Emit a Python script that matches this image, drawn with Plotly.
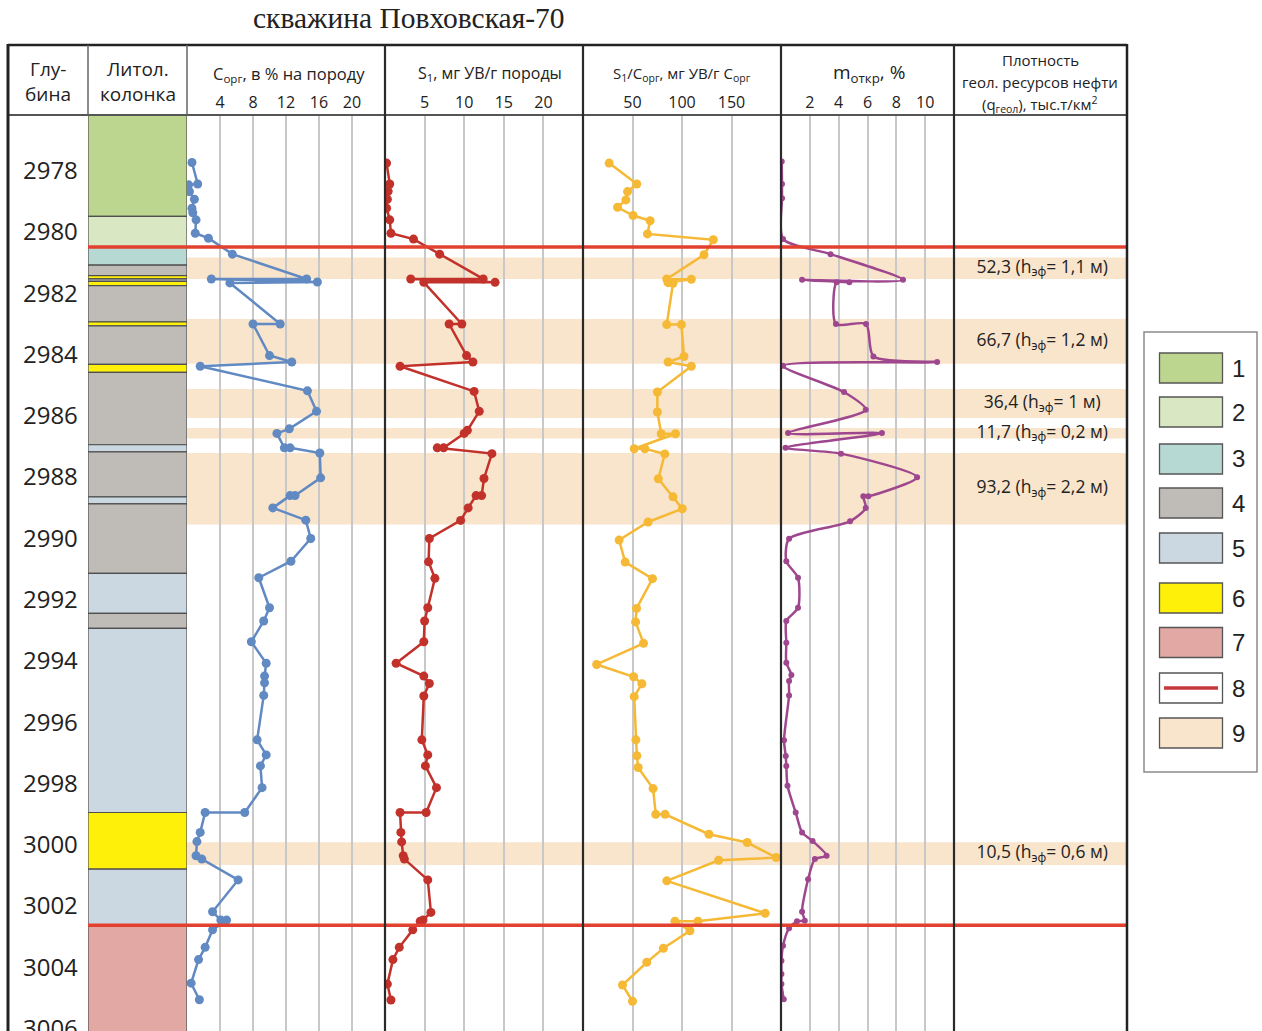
import plotly.graph_objects as go

W, H = 1262, 1031

# ---------------- data ----------------
depth_ticks = [2978, 2980, 2982, 2984, 2986, 2988, 2990, 2992, 2994, 2996, 2998, 3000, 3002, 3004, 3006]

lith_top = [2976.11, 2979.42, 2980.42, 2981.01, 2981.35, 2981.46, 2981.54, 2981.68, 2982.86, 2982.99,
            2984.25, 2984.51, 2986.87, 2987.10, 2988.57, 2988.80, 2991.07, 2992.37, 2992.86, 2998.87,
            3000.72, 3002.55]
lith_bottom = lith_top[1:] + [3006.6]
lith_code = [1, 2, 3, 4, 6, 4, 6, 4, 6, 4, 6, 4, 5, 4, 5, 4, 5, 4, 5, 6, 5, 7]
lith_colors = {1: "#bdd68f", 2: "#d9e7c2", 3: "#b7d9d3", 4: "#bfbcb8", 5: "#cbd8e1", 6: "#fff00a", 7: "#e2a8a3"}

band_top = [2980.76, 2982.77, 2985.05, 2986.32, 2987.14, 2999.84]
band_bottom = [2981.46, 2984.23, 2986.00, 2986.67, 2989.47, 3000.58]
band_density = ["52,3", "66,7", "36,4", "11,7", "93,2", "10,5"]
band_heff = ["1,1", "1,2", "1", "0,2", "2,2", "0,6"]

boundary_depths = [2980.42, 3002.55]

corg_depth = [2977.66, 2978.36, 2978.39, 2978.61, 2978.86, 2979.15, 2979.30, 2979.53, 2979.97, 2980.13,
              2980.65, 2981.46, 2981.46, 2981.56, 2981.59, 2982.93, 2982.93, 2983.96, 2984.17, 2984.31,
              2985.11, 2985.78, 2986.35, 2986.50, 2986.97, 2986.97, 2987.14, 2987.95, 2988.53, 2988.53,
              2988.93, 2989.33, 2989.93, 2990.67, 2991.21, 2992.19, 2992.62, 2993.30, 2994.00, 2994.42,
              2994.64, 2995.05, 2996.50, 2996.99, 2997.35, 2998.06, 2998.87, 2998.87, 2999.52, 2999.82,
              3000.28, 3000.39, 3001.07, 3002.11, 3002.38, 3002.38, 3002.70, 3003.27, 3003.67, 3004.44,
              3004.98]
corg_value = [0.6, 1.3, 0.2, 0.3, 0.9, 0.6, 0.7, 1.1, 1.0, 2.6,
              5.5, 14.5, 2.95, 15.8, 5.2, 11.3, 8.0, 10.0, 12.7, 1.6,
              14.6, 15.7, 12.4, 10.9, 11.8, 12.5, 16.1, 16.2, 13.1, 12.5,
              10.4, 14.4, 15.0, 12.6, 8.7, 10.0, 9.3, 7.8, 9.6, 9.4,
              9.4, 9.3, 8.5, 9.6, 8.9, 9.1, 7.0, 2.2, 1.6, 1.2,
              1.1, 1.8, 6.2, 3.1, 4.1, 4.8, 3.1, 2.2, 1.4, 0.5,
              1.5]

s1_depth = [2977.68, 2978.36, 2978.60, 2978.86, 2979.15, 2979.53, 2979.97, 2980.16, 2980.65, 2981.46,
            2981.46, 2981.57, 2981.57, 2982.93, 2982.93, 2983.96, 2984.17, 2984.31, 2985.13, 2985.78,
            2986.40, 2986.50, 2986.97, 2986.97, 2987.16, 2987.97, 2988.53, 2988.53, 2988.93, 2989.34,
            2989.93, 2990.69, 2991.23, 2992.19, 2992.62, 2993.30, 2994.00, 2994.42, 2994.66, 2995.07,
            2996.50, 2996.99, 2997.35, 2998.06, 2998.87, 2998.87, 2999.52, 2999.83, 3000.28, 3000.39,
            3001.07, 3002.13, 3002.38, 3002.42, 3002.70, 3003.27, 3003.67, 3004.47, 3004.99]
s1_value = [0.2, 0.6, 0.4, 0.3, 0.2, 0.6, 0.75, 3.6, 6.9, 12.4,
            3.25, 13.9, 4.9, 9.7, 8.1, 10.3, 11.1, 1.9, 11.25, 11.9,
            10.4, 10.0, 7.4, 6.6, 13.5, 12.5, 12.2, 11.5, 10.5, 9.55,
            5.6, 5.5, 6.3, 5.4, 5.0, 4.9, 1.4, 4.9, 5.6, 4.9,
            4.65, 5.4, 5.1, 6.5, 5.2, 1.9, 2.0, 2.1, 2.3, 2.45,
            5.4, 5.8, 4.8, 4.45, 3.5, 1.8, 1.0, 0.3, 0.75]

sc_depth = [2977.68, 2978.36, 2978.61, 2978.88, 2979.12, 2979.39, 2979.56, 2979.99, 2980.18, 2980.67,
            2981.46, 2981.47, 2981.58, 2981.60, 2982.95, 2982.95, 2983.99, 2984.17, 2984.31, 2985.15,
            2985.80, 2986.51, 2986.51, 2987.00, 2987.00, 2987.17, 2987.98, 2988.57, 2988.96, 2989.39,
            2989.98, 2990.70, 2991.24, 2992.21, 2992.65, 2993.35, 2994.04, 2994.44, 2994.67, 2995.09,
            2996.50, 2997.02, 2997.40, 2998.09, 2998.93, 2998.93, 2999.58, 2999.85, 3000.34, 3000.43,
            3001.10, 3002.16, 3002.42, 3002.42, 3002.73, 3003.30, 3003.76, 3004.50, 3005.03]
sc_value = [26.4, 54.3, 45.0, 43.3, 34.9, 50.6, 67.8, 65.1, 131.6, 122.2,
            84.6, 109.4, 85.9, 90.9, 84.6, 99.4, 102.0, 86.0, 109.4, 75.1,
            75.1, 79.0, 93.4, 51.7, 62.5, 82.6, 76.1, 90.9, 100.3, 65.7,
            36.5, 42.6, 70.2, 54.1, 53.1, 61.1, 13.8, 51.1, 59.5, 51.7,
            53.4, 54.4, 55.7, 70.8, 73.5, 82.9, 127.2, 165.9, 195.1, 137.0,
            84.6, 184.0, 116.2, 92.9, 108.0, 81.2, 64.4, 39.9, 50.0]

m_depth = [2977.63, 2978.36, 2978.83, 2980.16, 2980.65, 2981.49, 2981.49, 2981.57, 2981.57, 2982.93,
           2982.93, 2983.99, 2984.17, 2984.29, 2985.15, 2985.73, 2986.49, 2986.49, 2986.97, 2987.16,
           2987.93, 2988.55, 2988.55, 2988.93, 2989.37, 2989.94, 2990.67, 2991.21, 2992.19, 2992.62,
           2993.33, 2993.98, 2994.38, 2994.58, 2995.05, 2996.51, 2997.03, 2997.35, 2998.00, 2998.87,
           2999.52, 2999.80, 3000.28, 3000.39, 3001.05, 3002.11, 3002.40, 3002.42, 3002.65, 3003.22,
           3003.71, 3004.14, 3004.47, 3004.96]
m_value = [0.05, 0.07, 0.07, 0.14, 3.44, 8.46, 1.46, 4.74, 3.86, 3.81,
           5.9, 6.41, 10.83, 0.14, 4.37, 5.88, 0.49, 7.0, 0.31, 4.16,
           9.44, 6.06, 5.71, 5.88, 4.79, 0.56, 0.37, 1.18, 1.18, 0.37,
           0.37, 0.37, 0.72, 0.56, 0.56, 0.21, 0.33, 0.37, 0.45, 1.02,
           1.46, 2.19, 3.16, 2.35, 1.88, 1.46, 1.65, 1.11, 0.56, 0.14,
           0.03, 0.03, 0.03, 0.19]

corg_ticks = [4, 8, 12, 16, 20]
s1_ticks = [5, 10, 15, 20]
sc_ticks = [50, 100, 150]
m_ticks = [2, 4, 6, 8, 10]

legend_labels = ["1", "2", "3", "4", "5", "6", "7", "8", "9"]

# ---------------- helpers ----------------
def px(x):
    return x / W


def py(y):
    return 1 - y / H


SANS = "Open Sans"
Y_TOP, Y_BOT = 2976.11, 3006.0

fig = go.Figure()

# depth labels
fig.add_trace(go.Scatter(x=[0.53] * len(depth_ticks), y=depth_ticks, text=[str(d) for d in depth_ticks],
                         mode="text", textfont=dict(family=SANS, size=24, color="#222"),
                         xaxis="x", yaxis="y", cliponaxis=False, hoverinfo="skip", showlegend=False))

fig.add_trace(go.Scatter(x=corg_value, y=corg_depth, mode="lines+markers", xaxis="x3", yaxis="y",
                         line=dict(color="#6189c2", width=2.5), marker=dict(size=9, color="#6189c2"),
                         showlegend=False))
fig.add_trace(go.Scatter(x=s1_value, y=s1_depth, mode="lines+markers", xaxis="x4", yaxis="y",
                         line=dict(color="#c2322b", width=2.5), marker=dict(size=9, color="#c2322b"),
                         showlegend=False))
fig.add_trace(go.Scatter(x=sc_value, y=sc_depth, mode="lines+markers", xaxis="x5", yaxis="y",
                         line=dict(color="#f5b935", width=2.5), marker=dict(size=9, color="#f5b935"),
                         showlegend=False))
fig.add_trace(go.Scatter(x=m_value, y=m_depth, mode="lines+markers", xaxis="x6", yaxis="y",
                         line=dict(color="#9e478e", width=2.5, shape="spline", smoothing=0.7),
                         marker=dict(size=6, color="#9e478e"), showlegend=False))

# density labels
band_mid = [(a + b) / 2 for a, b in zip(band_top, band_bottom)]
fig.add_trace(go.Scatter(x=[0.51] * len(band_mid), y=band_mid,
                         text=[f"{q} (h<sub>эф</sub>= {h} м)" for q, h in zip(band_density, band_heff)],
                         mode="text", textfont=dict(family=SANS, size=17.5, color="#222"),
                         xaxis="x7", yaxis="y", cliponaxis=False, hoverinfo="skip", showlegend=False))

shapes = []
# bands
for t, b in zip(band_top, band_bottom):
    shapes.append(dict(type="rect", xref="paper", yref="y", x0=px(187), x1=px(1127), y0=t, y1=b,
                       fillcolor="#f9e4cc", line=dict(width=0), layer="below"))
# lithology
for t, b, c in zip(lith_top, lith_bottom, lith_code):
    shapes.append(dict(type="rect", xref="x2", yref="y", x0=0, x1=1, y0=t, y1=b,
                       fillcolor=lith_colors[c], line=dict(color="#4f4f4f", width=1.2), layer="above"))
# red boundaries
for d in boundary_depths:
    shapes.append(dict(type="line", xref="paper", yref="y", x0=px(88), x1=px(1127), y0=d, y1=d,
                       line=dict(color="#e2412f", width=3.5), layer="above"))

# frame
def pline(x0, y0, x1, y1, color="#222", width=2.5):
    shapes.append(dict(type="line", xref="paper", yref="paper", x0=px(x0), x1=px(x1), y0=py(y0), y1=py(y1),
                       line=dict(color=color, width=width), layer="above"))

pline(8, 45, 1127, 45, width=2.5)
pline(8, 115, 1127, 115, color="#555", width=2)
pline(8, 44, 8, H, width=3)
pline(1127, 44, 1127, H, width=2.5)
for xx in [88, 187]:
    pline(xx, 45, xx, 115, color="#666", width=1.5)
for xx in [385, 583, 781, 954]:
    pline(xx, 45, xx, H, color="#2a2a2a", width=2.2)

# legend box
shapes.append(dict(type="rect", xref="paper", yref="paper", x0=px(1144), x1=px(1257), y0=py(332), y1=py(772),
                   fillcolor="white", line=dict(color="#8a8a8a", width=1.5)))
leg_y = [368, 412, 459, 503, 548, 598, 642.5, 688, 733]
leg_fill = [lith_colors[1], lith_colors[2], lith_colors[3], lith_colors[4], lith_colors[5], lith_colors[6],
            lith_colors[7], "white", "#f9e4cc"]
annotations = []
for yc, fc, lab in zip(leg_y, leg_fill, legend_labels):
    shapes.append(dict(type="rect", xref="paper", yref="paper", x0=px(1159.5), x1=px(1222.5),
                       y0=py(yc - 15), y1=py(yc + 15), fillcolor=fc, line=dict(color="#555", width=1.3)))
    annotations.append(dict(text=lab, x=px(1238), y=py(yc), xref="paper", yref="paper", showarrow=False,
                            font=dict(family="Liberation Sans", size=24, color="#222"),
                            xanchor="center", yanchor="middle"))
shapes.append(dict(type="line", xref="paper", yref="paper", x0=px(1164), x1=px(1218), y0=py(688), y1=py(688),
                   line=dict(color="#c8373a", width=3.5)))

# header texts
def ann(text, x, y, size, family=SANS, color="#222"):
    annotations.append(dict(text=text, x=px(x), y=py(y), xref="paper", yref="paper", showarrow=False,
                            font=dict(family=family, size=size, color=color), xanchor="center", yanchor="middle"))

ann("скважина Повховская-70", 409, 18, 29.5, family="Liberation Serif")
ann("Глу-", 48, 69, 19)
ann("бина", 48, 94, 19)
ann("Литол.", 138, 69, 19)
ann("колонка", 138, 94, 19)
ann("C<sub>орг</sub>, в % на породу", 289, 74, 16.5)
ann("S<sub>1</sub>, мг УВ/г породы", 490, 74, 16)
ann("S<sub>1</sub>/C<sub>орг</sub>, мг УВ/г C<sub>орг</sub>", 682, 74, 15)
ann("m<sub>откр</sub>, %", 869, 73, 19)
ann("Плотность", 1040, 60, 15)
ann("геол. ресурсов нефти", 1040, 82, 15)
ann("(q<sub>геол</sub>), тыс.т/км<sup>2</sup>", 1040, 104, 15)

ydom = [0, py(115)]

def track_axis(x0, x1, rng, ticks):
    return dict(domain=[px(x0), px(x1)], range=rng, anchor="y", side="top", tickvals=ticks,
                ticktext=[str(t) for t in ticks], showgrid=True, gridcolor="#c8c8c8", gridwidth=1.5,
                zeroline=False, showline=False, ticks="", tickfont=dict(family=SANS, size=16, color="#222"),
                ticklabelstandoff=3, fixedrange=True)

hidden = dict(visible=False, range=[0, 1], anchor="y", fixedrange=True)

fig.update_layout(
    width=W, height=H,
    margin=dict(l=0, r=0, t=0, b=0),
    paper_bgcolor="white", plot_bgcolor="rgba(0,0,0,0)",
    showlegend=False,
    xaxis=dict(hidden, domain=[px(8), px(88)]),
    xaxis2=dict(hidden, domain=[px(88), px(187)]),
    xaxis3=track_axis(187, 385, [0, 24], corg_ticks),
    xaxis4=track_axis(385, 583, [0, 25], s1_ticks),
    xaxis5=track_axis(583, 781, [0, 200], sc_ticks),
    xaxis6=track_axis(781, 954, [0, 12], m_ticks),
    xaxis7=dict(hidden, domain=[px(954), px(1127)]),
    yaxis=dict(domain=ydom, range=[Y_BOT, Y_TOP], visible=False, anchor="x", fixedrange=True),
    shapes=shapes,
    annotations=annotations,
)

fig.write_html("out.html", config={"displayModeBar": False},
               post_script="document.body.style.margin='0';document.body.style.overflow='hidden';")
